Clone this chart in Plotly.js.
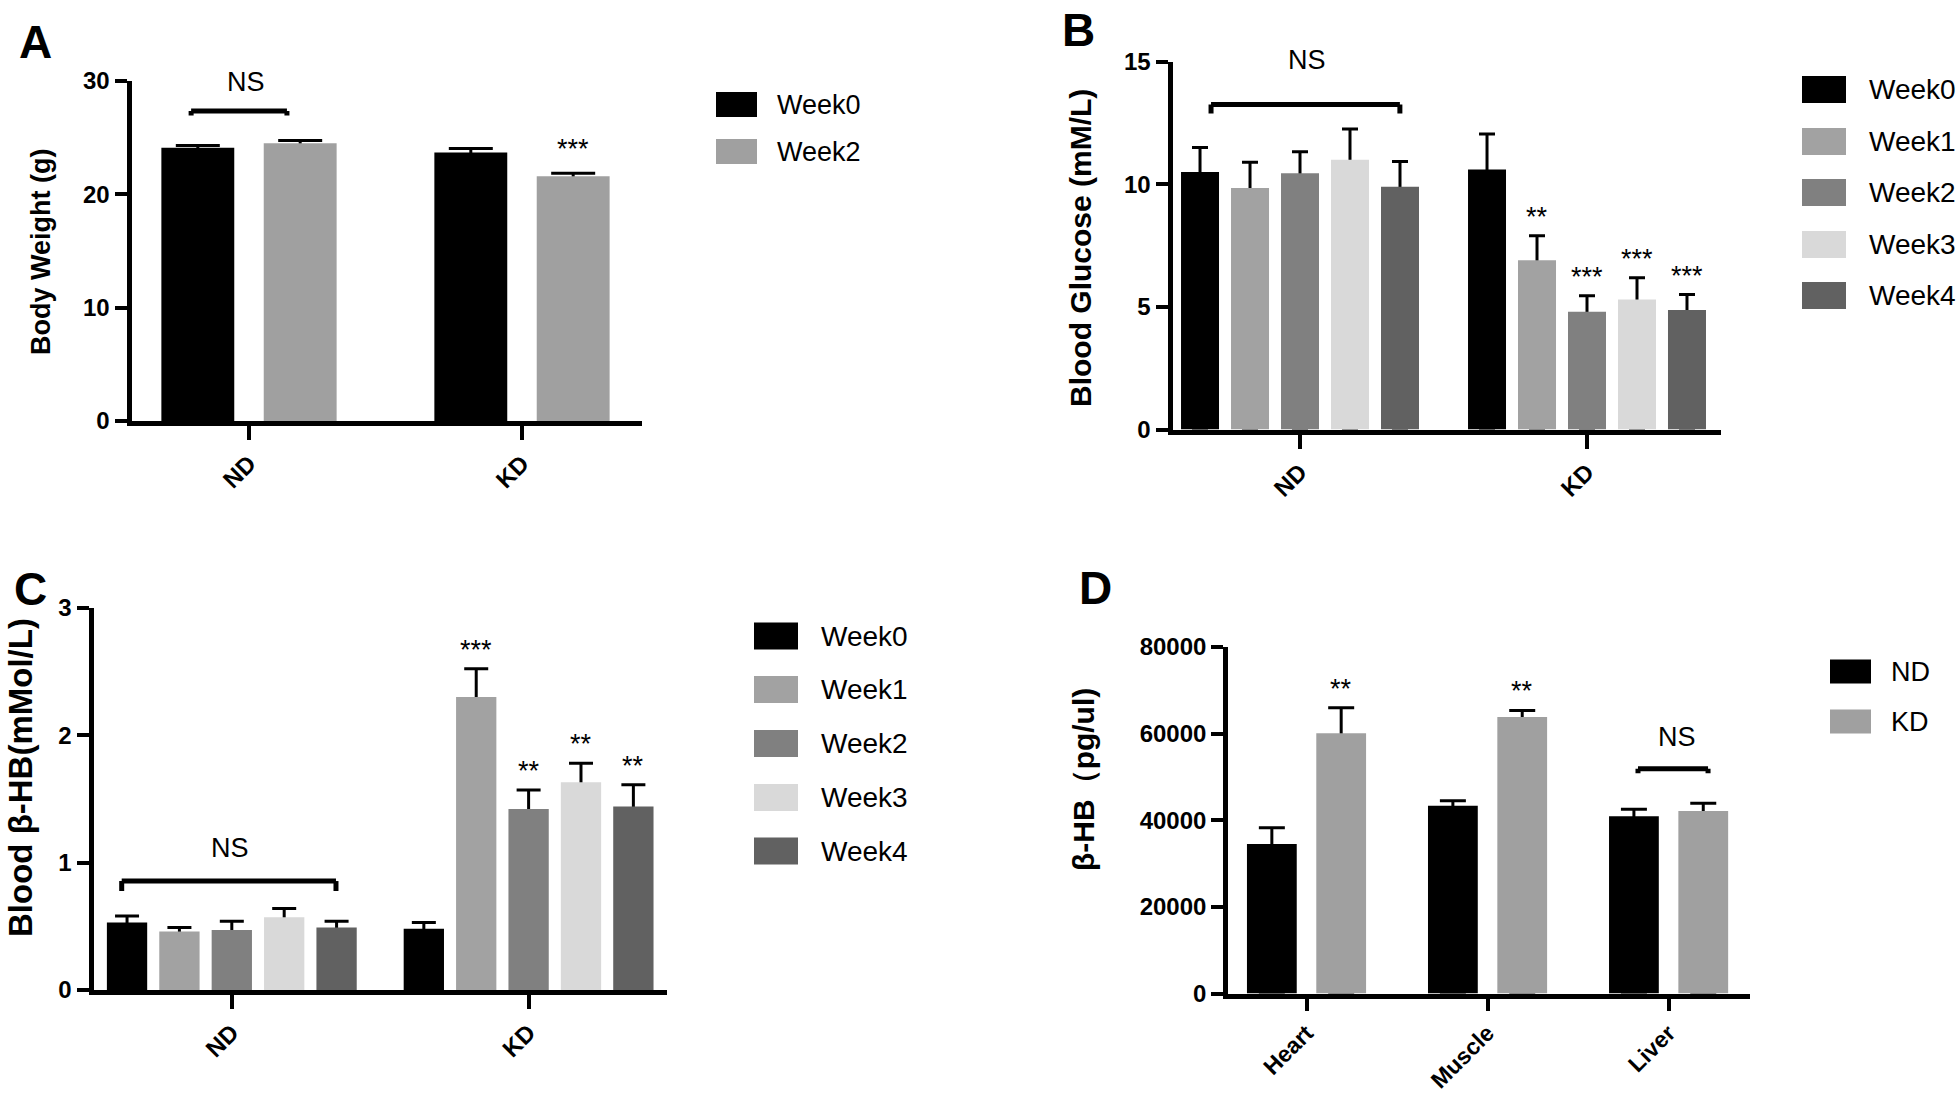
<!DOCTYPE html>
<html>
<head>
<meta charset="utf-8">
<script src="https://cdn.plot.ly/plotly-3.0.1.min.js"></script>
<style>
html,body{margin:0;padding:0;background:#fff;}
#chart{width:1959px;height:1094px;}
</style>
</head>
<body>
<div id="chart"></div>
<script>
// ---------------- DATA ----------------
// Panel A: body weight (g)
const dietGroups = ['ND', 'KD'];
const weightWeeks = ['Week0', 'Week2'];
const weightMean = [[24.1, 23.7], [24.5, 21.6]];
const weightSem = [[0.2, 0.35], [0.25, 0.25]];
const weightStars = [['', ''], ['', '***']];

// Panel B: blood glucose (mM/L)
const glucoseWeeks = ['Week0', 'Week1', 'Week2', 'Week3', 'Week4'];
const glucoseMean = [[10.5, 10.6], [9.85, 6.9], [10.45, 4.8], [11.0, 5.3], [9.9, 4.87]];
const glucoseSem = [[1.0, 1.45], [1.05, 1.0], [0.87, 0.65], [1.25, 0.89], [1.03, 0.63]];
const glucoseStars = [['', ''], ['', '**'], ['', '***'], ['', '***'], ['', '***']];

// Panel C: blood beta-HB (mMol/L)
const bhbWeeks = ['Week0', 'Week1', 'Week2', 'Week3', 'Week4'];
const bhbMean = [[0.53, 0.48], [0.46, 2.3], [0.47, 1.42], [0.57, 1.63], [0.49, 1.44]];
const bhbSem = [[0.05, 0.05], [0.03, 0.22], [0.07, 0.15], [0.07, 0.15], [0.05, 0.17]];
const bhbStars = [['', ''], ['', '***'], ['', '**'], ['', '**'], ['', '**']];

// Panel D: tissue beta-HB (pg/ul)
const tissues = ['Heart', 'Muscle', 'Liver'];
const tissueDiets = ['ND', 'KD'];
const tissueMean = [[34500, 43350, 40950], [60100, 63850, 42150]];
const tissueSem = [[3750, 1170, 1600], [5850, 1500, 1780]];
const tissueStars = [['', '', ''], ['**', '**', '']];

// ---------------- STYLE ----------------
const W = 1959, H = 1094;
const FONT = 'Liberation Sans, Arial, Helvetica, sans-serif';
const twoColors = ['#000000', '#a0a0a0'];
const fiveColors = ['#000000', '#a2a2a2', '#808080', '#d9d9d9', '#616161'];
const fx = px => px / W;
const fy = py => 1 - py / H;

const panels = [
  {s: '', cats: dietGroups, names: weightWeeks, mean: weightMean, sem: weightSem, stars: weightStars, colors: twoColors,
   l: 131.5, r: 642, t: 81, b: 421, xr: [-0.4304, 1.4396], yr: [0, 30], yt: [0, 10, 20, 30],
   pitch: 0.375, bw: 0.267, cap: 22, starShift: 24, xticklen: 14, xfont: 24,
   letter: 'A', letterPos: [35, 42], ytitle: 'Body Weight (g)', ytitlePos: [41, 252], ytitleSize: 27,
   ns: {x0: -0.212, x1: 0.139, y: 27.35, drop: 0.4, tx: -0.01, ty: 29.7},
   legend: {l: 716, r: 757, h: 25, ys: [104.5, 151.5], tx: 775, size: 27}},
  {s: '2', cats: dietGroups, names: glucoseWeeks, mean: glucoseMean, sem: glucoseSem, stars: glucoseStars, colors: fiveColors,
   l: 1172.5, r: 1721, t: 61.6, b: 429.5, xr: [-0.4443, 1.4669], yr: [0, 15], yt: [0, 5, 10, 15],
   pitch: 0.1742, bw: 0.1324, cap: 8, starShift: 19, xticklen: 14, xfont: 24,
   letter: 'B', letterPos: [1078, 30], ytitle: 'Blood Glucose (mM/L)', ytitlePos: [1080, 248], ytitleSize: 30,
   ns: {x0: -0.31, x1: 0.348, y: 13.25, drop: 0.37, tx: 0.024, ty: 14.99},
   legend: {l: 1802, r: 1846, h: 27, ys: [89.5, 141.4, 192.5, 244.5, 295.5], tx: 1867, size: 28}},
  {s: '3', cats: dietGroups, names: bhbWeeks, mean: bhbMean, sem: bhbSem, stars: bhbStars, colors: fiveColors,
   l: 93.5, r: 666.5, t: 607.7, b: 990, xr: [-0.466, 1.4646], yr: [0, 3], yt: [0, 1, 2, 3],
   pitch: 0.1765, bw: 0.1358, cap: 12, starShift: 19, xticklen: 14, xfont: 24,
   letter: 'C', letterPos: [30, 589], ytitle: 'Blood β-HB(mMol/L)', ytitlePos: [20, 778], ytitleSize: 33,
   ns: {x0: -0.371, x1: 0.351, y: 0.855, drop: 0.078, tx: -0.007, ty: 1.097},
   legend: {l: 754, r: 798, h: 27, ys: [636, 689.5, 743.5, 797.6, 851], tx: 819, size: 28}},
  {s: '4', cats: tissues, names: tissueDiets, mean: tissueMean, sem: tissueSem, stars: tissueStars, colors: twoColors,
   l: 1228.2, r: 1750, t: 647, b: 993.5, xr: [-0.4326, 2.4497], yr: [0, 80000], yt: [0, 20000, 40000, 60000, 80000],
   pitch: 0.383, bw: 0.275, cap: 13, starShift: 19, xticklen: 12, xfont: 23,
   letter: 'D', letterPos: [1095, 588], ytitle: 'β-HB（pg/ul)', ytitlePos: [1083, 780], ytitleSize: 30,
   ns: {x0: 1.831, x1: 2.218, y: 51873, drop: 1040, tx: 2.046, ty: 58651},
   legend: {l: 1830, r: 1871, h: 24, ys: [671.5, 721.6], tx: 1889, size: 27}}
];

const traces = [];
const layout = {
  width: W, height: H,
  margin: {l: 0, r: 0, t: 0, b: 0},
  paper_bgcolor: '#ffffff', plot_bgcolor: '#ffffff',
  barmode: 'overlay',
  showlegend: false,
  hovermode: false,
  font: {family: FONT, color: '#000'},
  annotations: [], shapes: []
};

panels.forEach(p => {
  const xa = 'x' + p.s, ya = 'y' + p.s;
  const n = p.names.length;
  // error-bar carriers first (drawn beneath the visible bars, so only the upper half shows)
  p.names.forEach((nm, i) => {
    const c = (i - (n - 1) / 2) * p.pitch;
    traces.push({
      type: 'bar', x: p.cats, y: p.mean[i], xaxis: xa, yaxis: ya,
      offset: c - p.bw / 2, width: p.bw,
      marker: {color: 'rgba(0,0,0,0)', line: {width: 0}},
      error_y: {type: 'data', symmetric: false, array: p.sem[i], arrayminus: p.mean[i],
                color: '#000', thickness: 3, width: p.cap},
      hoverinfo: 'skip', name: nm + ' SEM'
    });
  });
  p.names.forEach((nm, i) => {
    const c = (i - (n - 1) / 2) * p.pitch;
    traces.push({
      type: 'bar', x: p.cats, y: p.mean[i], xaxis: xa, yaxis: ya,
      offset: c - p.bw / 2, width: p.bw, name: nm,
      marker: {color: p.colors[i], line: {width: 0}}
    });
    // significance stars
    p.stars[i].forEach((st, j) => {
      if (!st) return;
      layout.annotations.push({
        xref: xa, yref: ya, x: j + c, y: p.mean[i][j] + p.sem[i][j],
        text: st, showarrow: false, yanchor: 'middle', yshift: p.starShift,
        font: {family: FONT, size: 27, color: '#000'}
      });
    });
  });

  layout['xaxis' + p.s] = {
    domain: [fx(p.l), fx(p.r)], anchor: ya, type: 'category', range: p.xr,
    showline: true, linewidth: 5, linecolor: '#000', showgrid: false, zeroline: false,
    ticks: 'outside', ticklen: p.xticklen, tickwidth: 4, tickcolor: '#000', tickangle: -45,
    tickfont: {family: FONT, size: p.xfont, color: '#000', weight: 'bold'}, fixedrange: true
  };
  layout['yaxis' + p.s] = {
    domain: [fy(p.b), fy(p.t)], anchor: xa, range: p.yr, tickvals: p.yt, tickformat: 'd',
    showline: true, linewidth: 5, linecolor: '#000', showgrid: false, zeroline: false,
    ticks: 'outside', ticklen: 12, tickwidth: 4, tickcolor: '#000',
    tickfont: {family: FONT, size: 24, color: '#000', weight: 'bold'}, fixedrange: true
  };

  // panel letter
  layout.annotations.push({xref: 'paper', yref: 'paper', x: fx(p.letterPos[0]), y: fy(p.letterPos[1]),
    text: p.letter, showarrow: false, xanchor: 'center', yanchor: 'middle',
    font: {family: FONT, size: 46, color: '#000', weight: 'bold'}});
  // y title
  layout.annotations.push({xref: 'paper', yref: 'paper', x: fx(p.ytitlePos[0]), y: fy(p.ytitlePos[1]),
    text: p.ytitle, showarrow: false, textangle: -90, xanchor: 'center', yanchor: 'middle',
    font: {family: FONT, size: p.ytitleSize, color: '#000', weight: 'bold'}});
  // NS bracket
  const ns = p.ns;
  const lineStyle = {color: '#000', width: 5};
  layout.shapes.push({type: 'line', xref: xa, yref: ya, x0: ns.x0, x1: ns.x1, y0: ns.y, y1: ns.y, line: lineStyle});
  layout.shapes.push({type: 'line', xref: xa, yref: ya, x0: ns.x0, x1: ns.x0, y0: ns.y, y1: ns.y - ns.drop, line: lineStyle});
  layout.shapes.push({type: 'line', xref: xa, yref: ya, x0: ns.x1, x1: ns.x1, y0: ns.y, y1: ns.y - ns.drop, line: lineStyle});
  layout.annotations.push({xref: xa, yref: ya, x: ns.tx, y: ns.ty, text: 'NS', showarrow: false,
    xanchor: 'center', yanchor: 'middle', yshift: 2, font: {family: FONT, size: 27, color: '#000'}});

  // legend (boxes + labels)
  const lg = p.legend;
  p.names.forEach((nm, i) => {
    const cy = lg.ys[i];
    layout.shapes.push({type: 'rect', xref: 'paper', yref: 'paper',
      x0: fx(lg.l), x1: fx(lg.r), y0: fy(cy + lg.h / 2), y1: fy(cy - lg.h / 2),
      fillcolor: p.colors[i], line: {width: 0}});
    layout.annotations.push({xref: 'paper', yref: 'paper', x: fx(lg.tx), y: fy(cy),
      text: nm, showarrow: false, xanchor: 'left', yanchor: 'middle',
      font: {family: FONT, size: lg.size, color: '#000'}});
  });
});

Plotly.newPlot('chart', traces, layout, {displayModeBar: false, staticPlot: true});
</script>
</body>
</html>
